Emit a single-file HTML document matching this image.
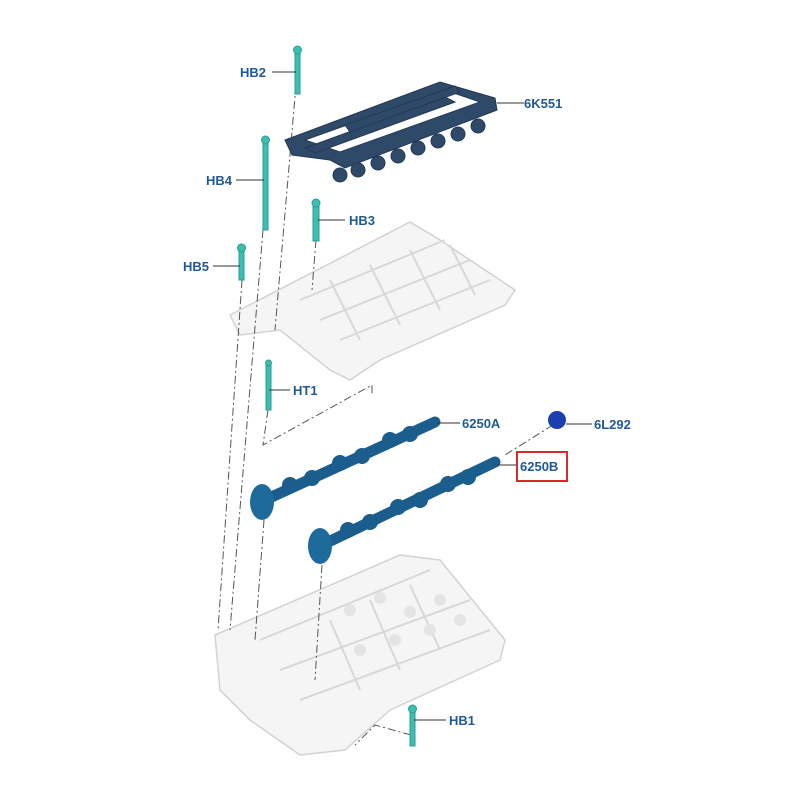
<!DOCTYPE html>
<html><head><style>
body{margin:0;background:#fff}
svg text{font-family:"Liberation Sans",sans-serif;font-weight:bold;font-size:13px;fill:#1f5a96}
</style></head><body>
<svg width="800" height="800" viewBox="0 0 800 800" xmlns="http://www.w3.org/2000/svg">
<g fill="#f5f5f5" stroke="#d2d2d2" stroke-width="1.5">
<polygon points="230,315 410,222 440,240 515,290 505,305 380,360 350,380 330,370 280,330 240,335"/>
<polygon points="215,635 400,555 440,560 505,640 500,660 390,710 345,750 300,755 250,720 220,690"/>
</g>
<g fill="none" stroke="#d8d8d8" stroke-width="2">
<path d="M300,300 L445,240 M320,320 L470,260 M340,340 L490,280"/>
<path d="M330,280 L360,340 M370,265 L400,325 M410,250 L440,310 M450,245 L475,295"/>
<path d="M260,640 L430,570 M280,670 L470,600 M300,700 L490,630"/>
<path d="M330,620 L360,690 M370,600 L400,670 M410,585 L440,650"/>
</g>
<g fill="#e4e4e4">
<circle cx="350" cy="610" r="6"/><circle cx="380" cy="598" r="6"/><circle cx="410" cy="612" r="6"/><circle cx="440" cy="600" r="6"/><circle cx="360" cy="650" r="6"/><circle cx="395" cy="640" r="6"/><circle cx="430" cy="630" r="6"/><circle cx="460" cy="620" r="6"/>
</g>
<g stroke="#555" stroke-width="1" stroke-dasharray="8,3,2,3" fill="none">
<path d="M296,85 L275,330"/>
<path d="M263,230 L230,630"/>
<path d="M242,280 L218,630"/>
<path d="M316,240 L312,290"/>
<path d="M268,410 L263,445 L372,385 L372,395"/>
<path d="M264,520 L255,640"/>
<path d="M322,565 L315,680"/>
<path d="M553,425 L505,455"/>
<path d="M411,735 L375,725 L355,745"/>
</g>
<g fill="#2f4a68" stroke="#223a55">
<polygon points="285,140 440,82 495,98 497,110 345,168 330,160 292,155"/>
<polygon points="305,140 445,90 480,102 340,152" fill="#fff"/>
<circle cx="340" cy="175" r="7"/><circle cx="358" cy="170" r="7"/><circle cx="378" cy="163" r="7"/><circle cx="398" cy="156" r="7"/><circle cx="418" cy="148" r="7"/><circle cx="438" cy="141" r="7"/><circle cx="458" cy="134" r="7"/><circle cx="478" cy="126" r="7"/>
<polygon points="305,148 445,97 455,102 315,153"/>
<polygon points="345,125 455,86 460,92 350,132"/>
</g>
<g fill="#3cbfb0" stroke="#2a9d90">
<rect x="295" y="52" width="5" height="42"/><circle cx="297.5" cy="50" r="4"/>
<rect x="263" y="142" width="5" height="88"/><circle cx="265.5" cy="140" r="4"/>
<rect x="313" y="205" width="6" height="36"/><circle cx="316" cy="203" r="4"/>
<rect x="239" y="250" width="5" height="30"/><circle cx="241.5" cy="248" r="4"/>
<rect x="266" y="365" width="5" height="45"/><circle cx="268.5" cy="363" r="3"/>
<rect x="410" y="710" width="5" height="36"/><circle cx="412.5" cy="709" r="4"/>
</g>
<g stroke="#1b5d8c" stroke-linecap="round" fill="none">
<path d="M265,500 L435,422" stroke-width="11"/>
<path d="M322,545 L495,462" stroke-width="11"/>
</g>
<g fill="#1b5d8c">
<circle cx="290" cy="485" r="8"/><circle cx="312" cy="478" r="8"/><circle cx="340" cy="463" r="8"/><circle cx="362" cy="456" r="8"/><circle cx="390" cy="440" r="8"/><circle cx="410" cy="434" r="8"/>
<circle cx="348" cy="530" r="8"/><circle cx="370" cy="522" r="8"/><circle cx="398" cy="507" r="8"/><circle cx="420" cy="500" r="8"/><circle cx="448" cy="484" r="8"/><circle cx="468" cy="477" r="8"/>
</g>
<g fill="#1d6a9b">
<ellipse cx="262" cy="502" rx="12" ry="18"/>
<ellipse cx="320" cy="546" rx="12" ry="18"/>
<circle cx="557" cy="420" r="9" fill="#1c3fae"/>
</g>
<g stroke="#333" stroke-width="1">
<path d="M272,72 L296,72 M524,103 L497,103 M236,180 L264,180 M345,220 L318,220 M213,266 L240,266 M290,390 L269,390 M460,423 L437,423 M592,424 L566,424 M516,465 L497,465 M446,720 L414,720"/>
</g>
<text x="240" y="77">HB2</text>
<text x="524" y="108">6K551</text>
<text x="206" y="185">HB4</text>
<text x="349" y="225">HB3</text>
<text x="183" y="271">HB5</text>
<text x="293" y="395">HT1</text>
<text x="462" y="428">6250A</text>
<text x="594" y="429">6L292</text>
<rect x="517" y="452" width="50" height="29" fill="none" stroke="#d42b2b" stroke-width="2"/>
<text x="520" y="471">6250B</text>
<text x="449" y="725">HB1</text>
</svg>
</body></html>
